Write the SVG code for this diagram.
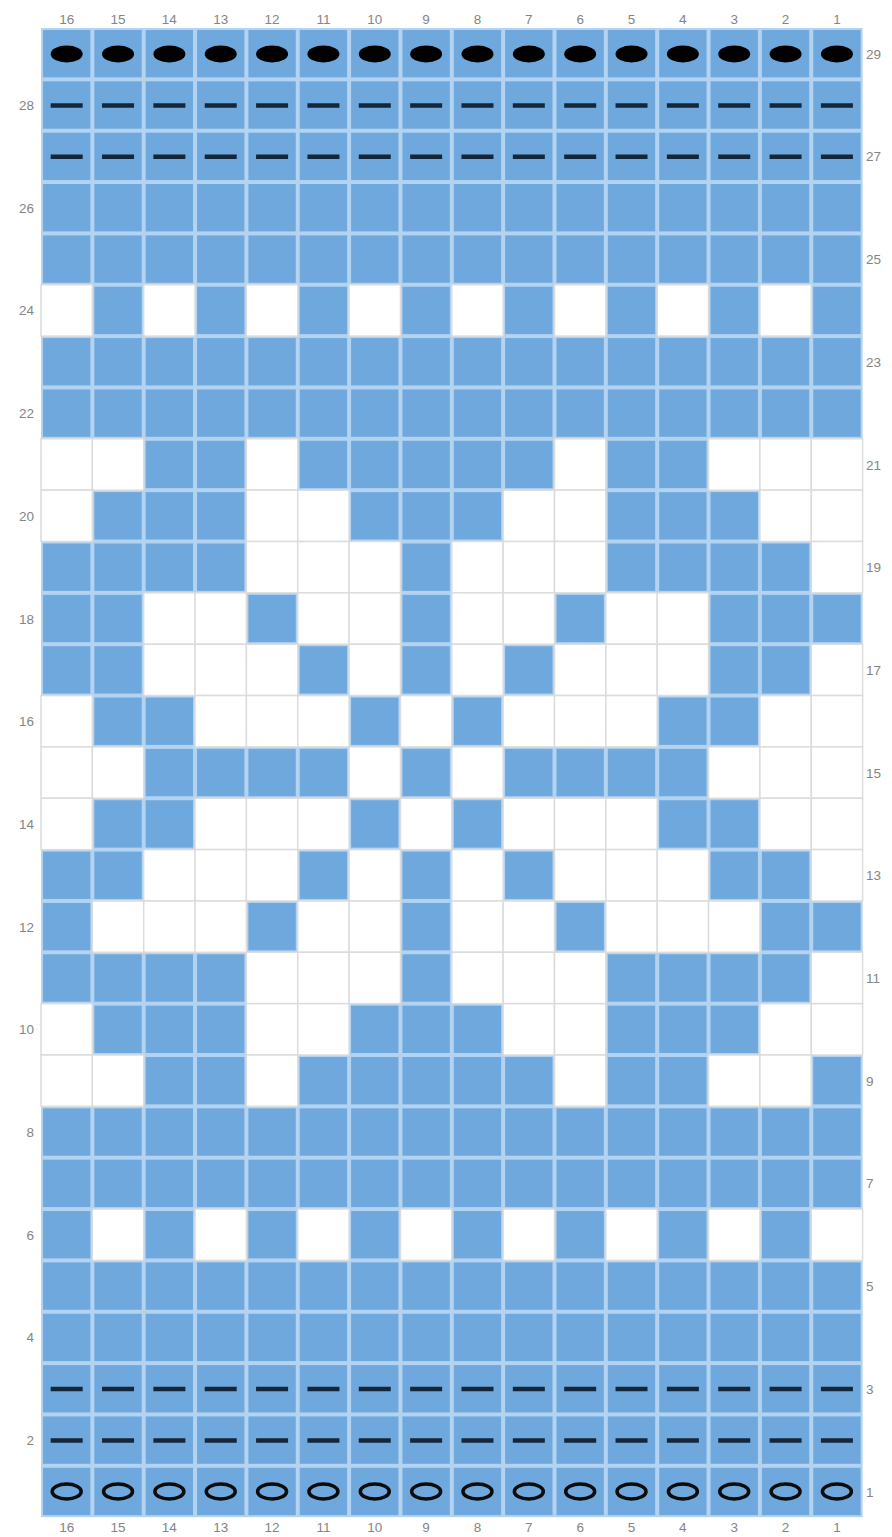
<svg xmlns="http://www.w3.org/2000/svg" width="892" height="1537" viewBox="0 0 892 1537">
<style>
.lbl{font-family:"Liberation Sans",Arial,sans-serif;font-size:13.5px;fill:#858585}
.c{text-anchor:middle}
.l{text-anchor:end}
.r{text-anchor:start}
</style>
<defs>
<pattern id="bp" patternUnits="userSpaceOnUse" x="41" y="28" width="51.35" height="51.35">
<rect x="1" y="1" width="49.35" height="49.35" fill="#6ea8dd" stroke="#b3d3f1" stroke-width="2"/>
</pattern>
<rect id="w" width="51.35" height="51.35" fill="#ffffff" stroke="#dcdcdc" stroke-width="1.5"/>
<ellipse id="fo" rx="16" ry="8.5" fill="#000000"/>
<line id="d" x1="-16" y1="0" x2="16" y2="0" stroke="#14263a" stroke-width="4.5" stroke-linecap="butt"/>
<ellipse id="oo" rx="14.5" ry="7.5" fill="none" stroke="#0b0b0b" stroke-width="3.5"/>
</defs>
<rect width="892" height="1537" fill="#ffffff"/>
<g id="grid">
<rect x="41" y="28" width="821.6" height="1489.15" fill="url(#bp)"/>
</g>
<g id="white-cells">
<g id="row-24" transform="translate(0,284.75)"><use href="#w" x="41"/><use href="#w" x="143.7"/><use href="#w" x="246.4"/><use href="#w" x="349.1"/><use href="#w" x="451.8"/><use href="#w" x="554.5"/><use href="#w" x="657.2"/><use href="#w" x="759.9"/></g>
<g id="row-21" transform="translate(0,438.8)"><use href="#w" x="41"/><use href="#w" x="92.35"/><use href="#w" x="246.4"/><use href="#w" x="554.5"/><use href="#w" x="708.55"/><use href="#w" x="759.9"/><use href="#w" x="811.25"/></g>
<g id="row-20" transform="translate(0,490.15)"><use href="#w" x="41"/><use href="#w" x="246.4"/><use href="#w" x="297.75"/><use href="#w" x="503.15"/><use href="#w" x="554.5"/><use href="#w" x="759.9"/><use href="#w" x="811.25"/></g>
<g id="row-19" transform="translate(0,541.5)"><use href="#w" x="246.4"/><use href="#w" x="297.75"/><use href="#w" x="349.1"/><use href="#w" x="451.8"/><use href="#w" x="503.15"/><use href="#w" x="554.5"/><use href="#w" x="811.25"/></g>
<g id="row-18" transform="translate(0,592.85)"><use href="#w" x="143.7"/><use href="#w" x="195.05"/><use href="#w" x="297.75"/><use href="#w" x="349.1"/><use href="#w" x="451.8"/><use href="#w" x="503.15"/><use href="#w" x="605.85"/><use href="#w" x="657.2"/></g>
<g id="row-17" transform="translate(0,644.2)"><use href="#w" x="143.7"/><use href="#w" x="195.05"/><use href="#w" x="246.4"/><use href="#w" x="349.1"/><use href="#w" x="451.8"/><use href="#w" x="554.5"/><use href="#w" x="605.85"/><use href="#w" x="657.2"/><use href="#w" x="811.25"/></g>
<g id="row-16" transform="translate(0,695.55)"><use href="#w" x="41"/><use href="#w" x="195.05"/><use href="#w" x="246.4"/><use href="#w" x="297.75"/><use href="#w" x="400.45"/><use href="#w" x="503.15"/><use href="#w" x="554.5"/><use href="#w" x="605.85"/><use href="#w" x="759.9"/><use href="#w" x="811.25"/></g>
<g id="row-15" transform="translate(0,746.9)"><use href="#w" x="41"/><use href="#w" x="92.35"/><use href="#w" x="349.1"/><use href="#w" x="451.8"/><use href="#w" x="708.55"/><use href="#w" x="759.9"/><use href="#w" x="811.25"/></g>
<g id="row-14" transform="translate(0,798.25)"><use href="#w" x="41"/><use href="#w" x="195.05"/><use href="#w" x="246.4"/><use href="#w" x="297.75"/><use href="#w" x="400.45"/><use href="#w" x="503.15"/><use href="#w" x="554.5"/><use href="#w" x="605.85"/><use href="#w" x="759.9"/><use href="#w" x="811.25"/></g>
<g id="row-13" transform="translate(0,849.6)"><use href="#w" x="143.7"/><use href="#w" x="195.05"/><use href="#w" x="246.4"/><use href="#w" x="349.1"/><use href="#w" x="451.8"/><use href="#w" x="554.5"/><use href="#w" x="605.85"/><use href="#w" x="657.2"/><use href="#w" x="811.25"/></g>
<g id="row-12" transform="translate(0,900.95)"><use href="#w" x="92.35"/><use href="#w" x="143.7"/><use href="#w" x="195.05"/><use href="#w" x="297.75"/><use href="#w" x="349.1"/><use href="#w" x="451.8"/><use href="#w" x="503.15"/><use href="#w" x="605.85"/><use href="#w" x="657.2"/><use href="#w" x="708.55"/></g>
<g id="row-11" transform="translate(0,952.3)"><use href="#w" x="246.4"/><use href="#w" x="297.75"/><use href="#w" x="349.1"/><use href="#w" x="451.8"/><use href="#w" x="503.15"/><use href="#w" x="554.5"/><use href="#w" x="811.25"/></g>
<g id="row-10" transform="translate(0,1003.65)"><use href="#w" x="41"/><use href="#w" x="246.4"/><use href="#w" x="297.75"/><use href="#w" x="503.15"/><use href="#w" x="554.5"/><use href="#w" x="759.9"/><use href="#w" x="811.25"/></g>
<g id="row-9" transform="translate(0,1055)"><use href="#w" x="41"/><use href="#w" x="92.35"/><use href="#w" x="246.4"/><use href="#w" x="554.5"/><use href="#w" x="708.55"/><use href="#w" x="759.9"/></g>
<g id="row-6" transform="translate(0,1209.05)"><use href="#w" x="92.35"/><use href="#w" x="195.05"/><use href="#w" x="297.75"/><use href="#w" x="400.45"/><use href="#w" x="503.15"/><use href="#w" x="605.85"/><use href="#w" x="708.55"/><use href="#w" x="811.25"/></g>
</g>
<g id="symbols">
<g id="sym-29" transform="translate(0,54)"><use href="#fo" x="66.68"/><use href="#fo" x="118.03"/><use href="#fo" x="169.38"/><use href="#fo" x="220.73"/><use href="#fo" x="272.08"/><use href="#fo" x="323.43"/><use href="#fo" x="374.78"/><use href="#fo" x="426.13"/><use href="#fo" x="477.48"/><use href="#fo" x="528.83"/><use href="#fo" x="580.18"/><use href="#fo" x="631.53"/><use href="#fo" x="682.88"/><use href="#fo" x="734.23"/><use href="#fo" x="785.58"/><use href="#fo" x="836.93"/></g>
<g id="sym-28" transform="translate(0,105.5)"><use href="#d" x="66.68"/><use href="#d" x="118.03"/><use href="#d" x="169.38"/><use href="#d" x="220.73"/><use href="#d" x="272.08"/><use href="#d" x="323.43"/><use href="#d" x="374.78"/><use href="#d" x="426.13"/><use href="#d" x="477.48"/><use href="#d" x="528.83"/><use href="#d" x="580.18"/><use href="#d" x="631.53"/><use href="#d" x="682.88"/><use href="#d" x="734.23"/><use href="#d" x="785.58"/><use href="#d" x="836.93"/></g>
<g id="sym-27" transform="translate(0,156.8)"><use href="#d" x="66.68"/><use href="#d" x="118.03"/><use href="#d" x="169.38"/><use href="#d" x="220.73"/><use href="#d" x="272.08"/><use href="#d" x="323.43"/><use href="#d" x="374.78"/><use href="#d" x="426.13"/><use href="#d" x="477.48"/><use href="#d" x="528.83"/><use href="#d" x="580.18"/><use href="#d" x="631.53"/><use href="#d" x="682.88"/><use href="#d" x="734.23"/><use href="#d" x="785.58"/><use href="#d" x="836.93"/></g>
<g id="sym-3" transform="translate(0,1389)"><use href="#d" x="66.68"/><use href="#d" x="118.03"/><use href="#d" x="169.38"/><use href="#d" x="220.73"/><use href="#d" x="272.08"/><use href="#d" x="323.43"/><use href="#d" x="374.78"/><use href="#d" x="426.13"/><use href="#d" x="477.48"/><use href="#d" x="528.83"/><use href="#d" x="580.18"/><use href="#d" x="631.53"/><use href="#d" x="682.88"/><use href="#d" x="734.23"/><use href="#d" x="785.58"/><use href="#d" x="836.93"/></g>
<g id="sym-2" transform="translate(0,1440.5)"><use href="#d" x="66.68"/><use href="#d" x="118.03"/><use href="#d" x="169.38"/><use href="#d" x="220.73"/><use href="#d" x="272.08"/><use href="#d" x="323.43"/><use href="#d" x="374.78"/><use href="#d" x="426.13"/><use href="#d" x="477.48"/><use href="#d" x="528.83"/><use href="#d" x="580.18"/><use href="#d" x="631.53"/><use href="#d" x="682.88"/><use href="#d" x="734.23"/><use href="#d" x="785.58"/><use href="#d" x="836.93"/></g>
<g id="sym-1" transform="translate(0,1491.5)"><use href="#oo" x="66.68"/><use href="#oo" x="118.03"/><use href="#oo" x="169.38"/><use href="#oo" x="220.73"/><use href="#oo" x="272.08"/><use href="#oo" x="323.43"/><use href="#oo" x="374.78"/><use href="#oo" x="426.13"/><use href="#oo" x="477.48"/><use href="#oo" x="528.83"/><use href="#oo" x="580.18"/><use href="#oo" x="631.53"/><use href="#oo" x="682.88"/><use href="#oo" x="734.23"/><use href="#oo" x="785.58"/><use href="#oo" x="836.93"/></g>
</g>
<g id="col-labels-top" class="lbl c">
<text x="66.68" y="24">16</text><text x="118.03" y="24">15</text><text x="169.38" y="24">14</text><text x="220.73" y="24">13</text><text x="272.08" y="24">12</text><text x="323.43" y="24">11</text><text x="374.78" y="24">10</text><text x="426.13" y="24">9</text><text x="477.48" y="24">8</text><text x="528.83" y="24">7</text><text x="580.18" y="24">6</text><text x="631.53" y="24">5</text><text x="682.88" y="24">4</text><text x="734.23" y="24">3</text><text x="785.58" y="24">2</text><text x="836.93" y="24">1</text>
</g>
<g id="col-labels-bottom" class="lbl c">
<text x="66.68" y="1532">16</text><text x="118.03" y="1532">15</text><text x="169.38" y="1532">14</text><text x="220.73" y="1532">13</text><text x="272.08" y="1532">12</text><text x="323.43" y="1532">11</text><text x="374.78" y="1532">10</text><text x="426.13" y="1532">9</text><text x="477.48" y="1532">8</text><text x="528.83" y="1532">7</text><text x="580.18" y="1532">6</text><text x="631.53" y="1532">5</text><text x="682.88" y="1532">4</text><text x="734.23" y="1532">3</text><text x="785.58" y="1532">2</text><text x="836.93" y="1532">1</text>
</g>
<g id="row-labels-left" class="lbl l">
<text x="34" y="110">28</text><text x="34" y="212.7">26</text><text x="34" y="315.4">24</text><text x="34" y="418.1">22</text><text x="34" y="520.8">20</text><text x="34" y="623.5">18</text><text x="34" y="726.2">16</text><text x="34" y="828.9">14</text><text x="34" y="931.6">12</text><text x="34" y="1034.3">10</text><text x="34" y="1137">8</text><text x="34" y="1239.7">6</text><text x="34" y="1342.4">4</text><text x="34" y="1445.1">2</text>
</g>
<g id="row-labels-right" class="lbl r">
<text x="866" y="58.7">29</text><text x="866" y="161.4">27</text><text x="866" y="264.1">25</text><text x="866" y="366.8">23</text><text x="866" y="469.5">21</text><text x="866" y="572.2">19</text><text x="866" y="674.9">17</text><text x="866" y="777.6">15</text><text x="866" y="880.3">13</text><text x="866" y="983">11</text><text x="866" y="1085.7">9</text><text x="866" y="1188.4">7</text><text x="866" y="1291.1">5</text><text x="866" y="1393.8">3</text><text x="866" y="1496.5">1</text>
</g>
</svg>
